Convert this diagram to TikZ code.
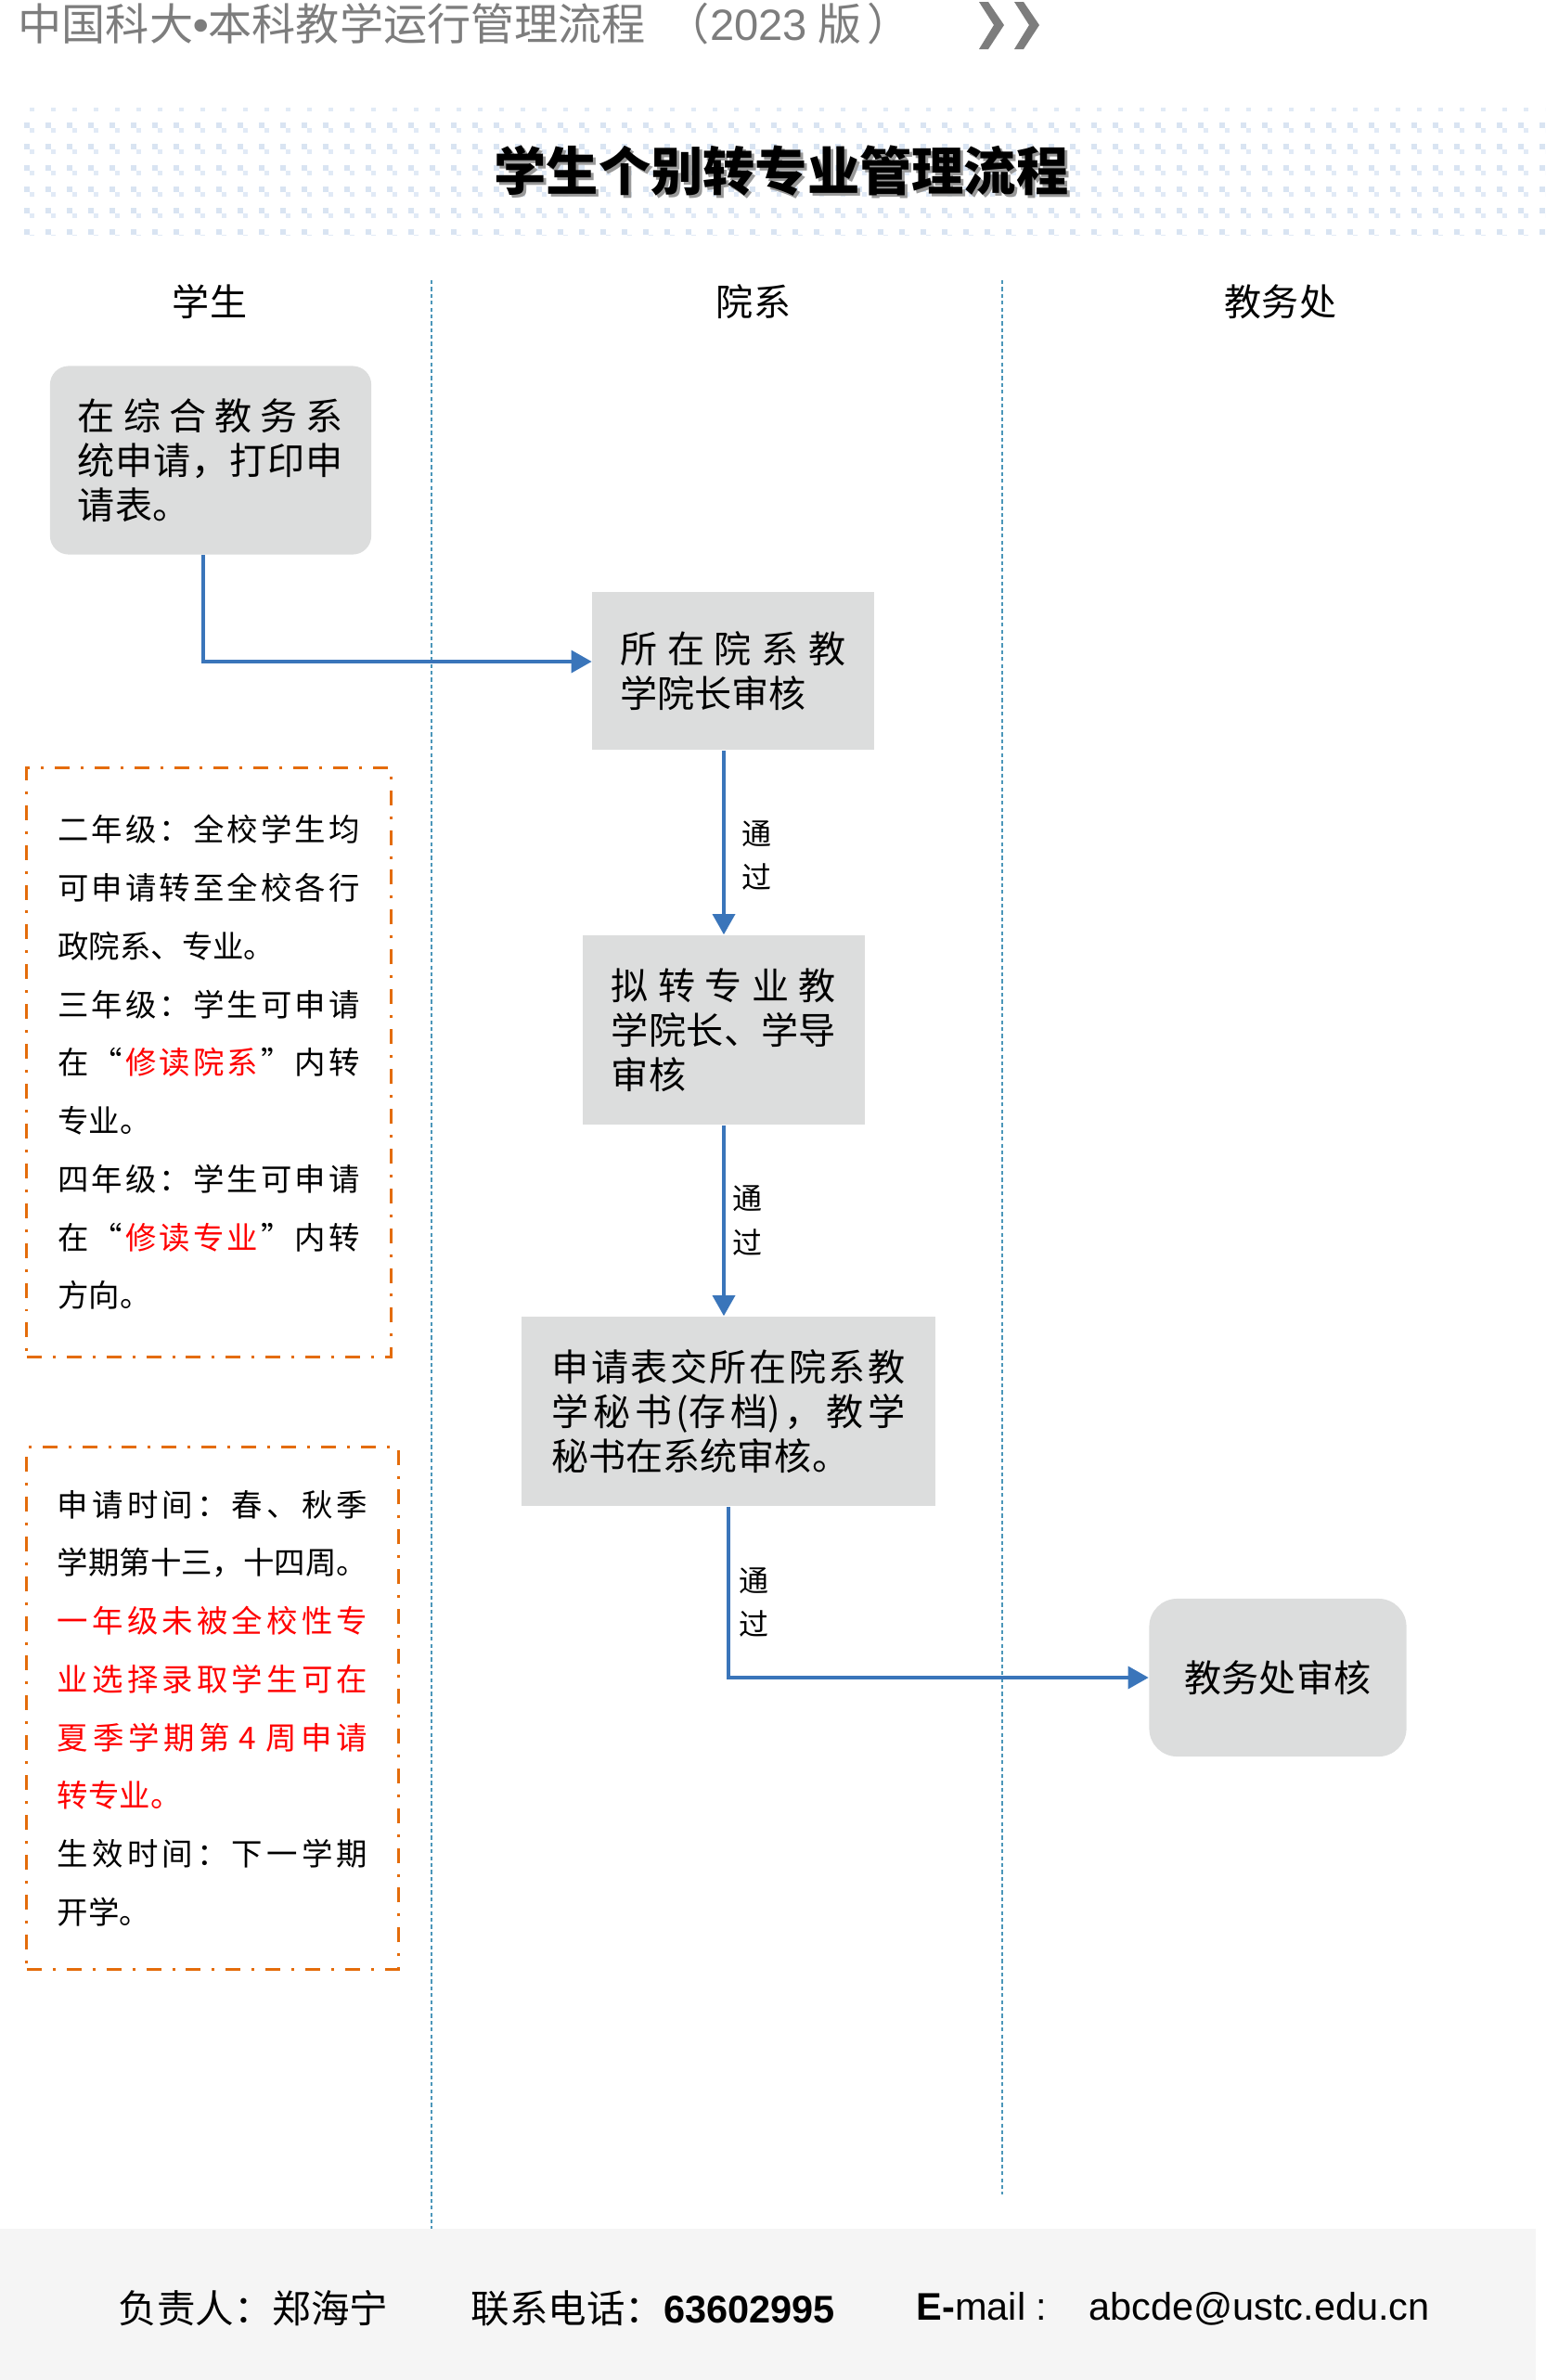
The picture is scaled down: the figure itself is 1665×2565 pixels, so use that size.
\documentclass[tikz,border=0pt]{standalone}
\usepackage{fontspec}
\setmainfont{Noto Sans CJK SC}
\newfontfamily\arialfont{Liberation Sans}
\usetikzlibrary{arrows.meta,positioning}
\definecolor{boxgray}{RGB}{220,221,221}
\definecolor{flowblue}{RGB}{58,117,186}
\definecolor{noteorange}{RGB}{228,108,10}
\definecolor{lanecyan}{RGB}{75,150,185}
\definecolor{dotblue}{RGB}{217,228,242}
\definecolor{dotblueb}{RGB}{225,234,246}
\definecolor{footgray}{RGB}{245,245,245}
\definecolor{headgray}{RGB}{125,125,125}
\newcommand\jline[2]{\makebox[#1][s]{\spaceskip=0pt plus 1fil\relax #2}}
\begin{document}
\begin{tikzpicture}[>={Triangle[length=6.3pt,width=6.8pt]},x=0.01cm,y=-0.01cm,
    stepbox/.style={fill=boxgray,inner sep=0pt,align=left,font=\boxfont},
    notebox/.style={draw=noteorange,line width=0.85pt,dash pattern=on 4.55pt off 3.4pt on 0.85pt off 3.4pt,inner sep=0pt,align=left,font=\notefont},
    flow/.style={->,draw=flowblue,line width=1.1pt},
    passlbl/.style={inner sep=0pt,align=left,font=\passfont},
    lane/.style={draw=lanecyan,line width=0.45pt,dash pattern=on 1.2pt off 0.9pt},
    lanehead/.style={inner sep=0pt,font=\laneheadfont},
    foot/.style={inner sep=0pt,font=\footfont}]
    \def\boxfont{\fontsize{11.4pt}{13.66pt}\selectfont}
    \def\notefont{\fontsize{9.5pt}{17.84pt}\selectfont}
    \def\passfont{\fontsize{9.1pt}{13.4pt}\selectfont}
    \def\laneheadfont{\fontsize{11.4pt}{13.66pt}\selectfont}
    \def\footfont{\fontsize{11.8pt}{14pt}\selectfont}
    \useasboundingbox (0,0) rectangle (1665,2565);
    \node[anchor=west,inner sep=0pt,text=headgray,font=\fontsize{13.4pt}{16pt}\selectfont] (head) at (19,26) {中国科大{\arialfont\bfseries •}本科教学运行管理流程\hspace{2.2mm}（{\arialfont 2023}\hspace{1.2mm}版\hspace{0.6mm}）};
    \fill[headgray] (1055,2) -- (1065,2) -- (1082,27) -- (1065,53) -- (1055,53) -- (1071,27) -- cycle;
    \fill[headgray] (1093,2) -- (1103,2) -- (1120,27) -- (1103,53) -- (1093,53) -- (1109,27) -- cycle;
    \begin{scope}
        \clip (23,116) rectangle (1665,253);
        \foreach \i in {0,...,71}
            \foreach \j in {-1,...,5} {
                \fill[dotblue] (26+23*\i,132+23*\j) rectangle ++(5.5,5.5);
                \fill[dotblueb] (31.5+23*\i,137.5+23*\j) rectangle ++(5.5,5.5);
            }
    \end{scope}
    \node[font=\bfseries\fontsize{16pt}{19pt}\selectfont,text=black!40] at (845,187) {学生个别转专业管理流程};
    \node[font=\bfseries\fontsize{16pt}{19pt}\selectfont] (title) at (842,184) {学生个别转专业管理流程};
    \node[lanehead] (lstu) at (226,325) {学生};
    \node[lanehead] (ldep) at (812,325) {院系};
    \node[lanehead] (loff) at (1380,325) {教务处};
    \draw[lane] (465,302) -- (465,2402);
    \draw[lane] (1080,302) -- (1080,2365);
    \node[stepbox,rounded corners=2mm,minimum width=34.6mm,minimum height=20.3mm,text width=28.6mm] (apply) at (227,496)
        {\jline{28.6mm}{在 综 合 教 务 系}\\\jline{28.6mm}{统 申 请 ， 打 印 申}\\请表。};
    \node[stepbox,minimum width=30.3mm,minimum height=17mm,text width=24.3mm] (dean) at (790,723)
        {\jline{24.3mm}{所 在 院 系 教}\\学院长审核};
    \node[stepbox,minimum width=30.4mm,minimum height=20.4mm,text width=24.2mm] (major) at (780,1110)
        {\jline{24.2mm}{拟 转 专 业 教}\\\jline{24.2mm}{学 院 长 、 学 导}\\审核};
    \node[stepbox,minimum width=44.5mm,minimum height=20.4mm,text width=38.1mm] (sec) at (785,1521)
        {\jline{38.1mm}{申 请 表 交 所 在 院 系 教}\\\jline{38.1mm}{学 秘 书 (存 档) ， 教 学}\\秘书在系统审核。};
    \node[stepbox,rounded corners=3mm,minimum width=27.7mm,minimum height=17mm,align=center] (office) at (1377,1808) {教务处审核};
    \draw[flow] ([xshift=-0.8mm]apply.south) |- ([yshift=1mm]dean.west);
    \draw[flow] (dean.south -| major.north) -- (major.north) node[passlbl,pos=0.57,right=1.8mm] {通\\过};
    \draw[flow] (major.south) -- (major.south |- sec.north) node[passlbl,midway,right=0.8mm] {通\\过};
    \draw[flow] (sec.south) |- (office.west) node[passlbl,pos=0.28,right=1mm] {通\\过};
    \node[notebox,minimum width=39.2mm,minimum height=63.4mm,text width=32.5mm] (grade) at (225,1145)
        {\jline{32.5mm}{二 年 级 ： 全 校 学 生 均}\\
         \jline{32.5mm}{可 申 请 转 至 全 校 各 行}\\
         政院系、专业。\\
         \jline{32.5mm}{三 年 级 ： 学 生 可 申 请}\\
         \jline{32.5mm}{在 “ {\color{red}修 读 院 系} ” 内 转}\\
         专业。\\
         \jline{32.5mm}{四 年 级 ： 学 生 可 申 请}\\
         \jline{32.5mm}{在 “ {\color{red}修 读 专 业} ” 内 转}\\
         方向。};
    \node[notebox,minimum width=40mm,minimum height=56.2mm,text width=33.4mm] (timing) at (229,1841)
        {\jline{33.4mm}{申 请 时 间 ： 春 、 秋 季}\\
         学期第十三，十四周。\\
         \color{red}\jline{33.4mm}{一 年 级 未 被 全 校 性 专}\\
         \jline{33.4mm}{业 选 择 录 取 学 生 可 在}\\
         \jline{33.4mm}{夏 季 学 期 第 \ 4 \ 周 申 请}\\
         转专业。\\
         \color{black}\jline{33.4mm}{生 效 时 间 ： 下 一 学 期}\\
         开学。};
    \fill[footgray] (0,2402) rectangle (1655,2565);
    \node[foot,anchor=west] (resp) at (127,2488) {负责人：郑海宁};
    \node[foot,anchor=west] (tel) at (507,2488) {联系电话：{\arialfont\bfseries 63602995}};
    \node[foot,anchor=west] (mail) at (987,2488) {{\arialfont\bfseries E-}{\arialfont mail :}\hspace{4.5mm}{\arialfont abcde@ustc.edu.cn}};
\end{tikzpicture}
\end{document}
